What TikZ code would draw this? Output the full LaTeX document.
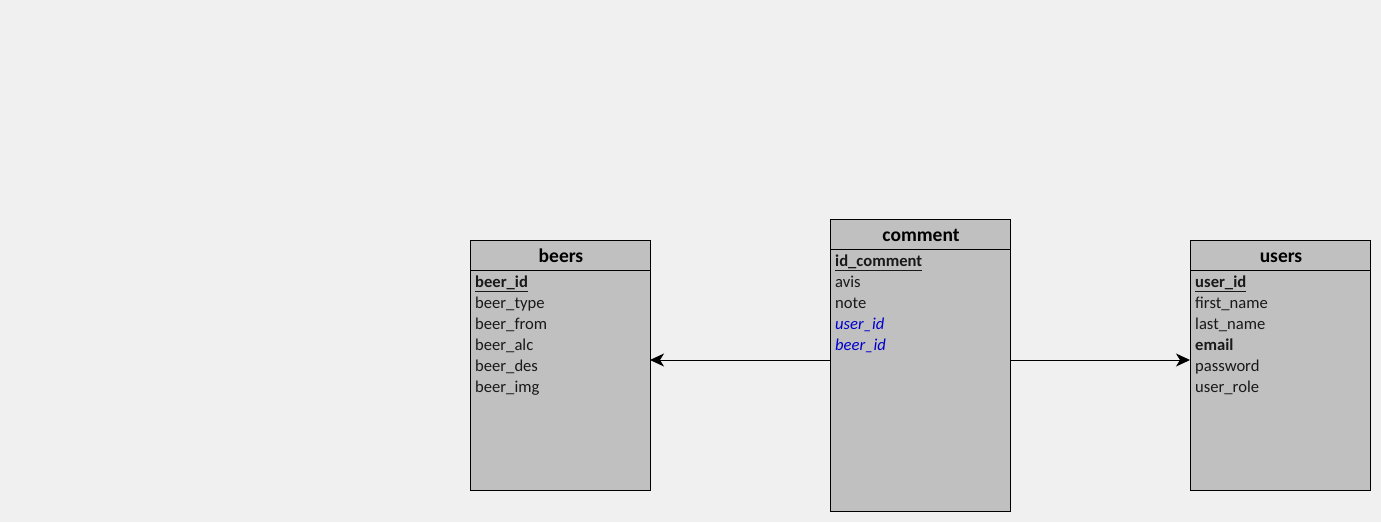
\documentclass[tikz,border=0pt]{standalone}
\usepackage{fontspec}
\setmainfont{Carlito}
\usetikzlibrary{arrows.meta}
\definecolor{canvas}{HTML}{F0F0F0}
\definecolor{tablefill}{HTML}{C0C0C0}
\definecolor{fkblue}{HTML}{0000CC}
\newcommand{\pkey}[1]{\textbf{\underline{#1}}}
\newcommand{\fkey}[1]{\textcolor{fkblue}{\textit{#1}}}
\begin{document}
\begin{tikzpicture}[x=1pt,y=-1pt,
  tablebox/.style={draw=black,fill=tablefill,line width=0.9pt},
  headline/.style={draw=black,line width=0.9pt},
  title/.style={font=\fontsize{19.5}{22}\selectfont\bfseries,inner sep=0pt,anchor=base},
  field/.style={font=\fontsize{16.6}{18}\selectfont,inner sep=0pt,anchor=base west,text=black!90},
  link/.style={draw=black,line width=0.9pt,-{Stealth[length=14pt,width=13pt,inset=4pt]}}]
\useasboundingbox[fill=canvas] (0,0) rectangle (1381,522);

% beers table
\node[tablebox,minimum width=180pt,minimum height=250pt,inner sep=0pt] (beers) at (560,365) {};
\draw[headline] (470,270) -- (650,270);
\node[title] (beersT) at (561,262) {beers};
\node[field] (b1) at (475,287) {\pkey{beer\_id}};
\node[field] (b2) at (475,308) {beer\_type};
\node[field] (b3) at (475,329) {beer\_from};
\node[field] (b4) at (475,350) {beer\_alc};
\node[field] (b5) at (475,371) {beer\_des};
\node[field] (b6) at (475,392) {beer\_img};

% comment table
\node[tablebox,minimum width=180pt,minimum height=292pt,inner sep=0pt] (comment) at (920,365) {};
\draw[headline] (830,249) -- (1010,249);
\node[title] (commentT) at (921,241) {comment};
\node[field] (c1) at (835,266) {\pkey{id\_comment}};
\node[field] (c2) at (835,287) {avis};
\node[field] (c3) at (835,308) {note};
\node[field] (c4) at (835,329) {\fkey{user\_id}};
\node[field] (c5) at (835,350) {\fkey{beer\_id}};

% users table
\node[tablebox,minimum width=180pt,minimum height=250pt,inner sep=0pt] (users) at (1280,365) {};
\draw[headline] (1190,270) -- (1370,270);
\node[title] (usersT) at (1281,262) {users};
\node[field] (u1) at (1195,287) {\pkey{user\_id}};
\node[field] (u2) at (1195,308) {first\_name};
\node[field] (u3) at (1195,329) {last\_name};
\node[field] (u4) at (1195,350) {\textbf{email}};
\node[field] (u5) at (1195,371) {password};
\node[field] (u6) at (1195,392) {user\_role};

% relations
\coordinate (cl) at (830,360);
\coordinate (cr) at (1010,360);
\coordinate (bl) at (650,360);
\coordinate (ur) at (1190,360);
\draw[link] (cl) -- (bl);
\draw[link] (cr) -- (ur);
\end{tikzpicture}
\end{document}
